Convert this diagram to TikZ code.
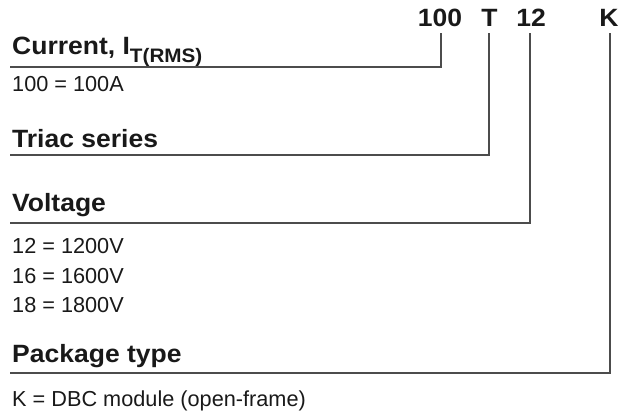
\documentclass[tikz,border=0pt]{standalone}
\usepackage{fontspec}
\setmainfont{Liberation Sans}
\newfontfamily\headfont{Liberation Sans}[FakeStretch=1.06]
\tikzset{
  head/.style={inner sep=0pt, anchor=base west, text=black!90, font=\headfont\bfseries\fontsize{25}{30}\selectfont},
  body/.style={inner sep=0pt, anchor=base west, text=black!90, font=\fontsize{21.7}{25}\selectfont},
  code/.style={inner sep=0pt, anchor=base, text=black!90, font=\headfont\bfseries\fontsize{25}{30}\selectfont},
  lead/.style={draw=black!70, line width=1.1pt}
}
\begin{document}
\begin{tikzpicture}[x=1pt,y=-1pt]
\useasboundingbox (0,0) rectangle (620,417);
% code letters
\node[code] (c100) at (440,27) {100};
\node[code] (cT) at (489.5,27) {T};
\node[code] (c12) at (531,27) {12};
\node[code] (cK) at (609,27) {K};
% headings
\node[head] (hcur) at (12,55) {Current, I\raisebox{-8pt}{\fontsize{19.5}{21}\selectfont T(RMS)}};
\node[body] (b100) at (12,92) {100 = 100A};
\node[head] (htri) at (12,147) {Triac series};
\node[head] (hvol) at (12,211) {Voltage};
\node[body] (b12) at (12,253) {12 = 1200V};
\node[body] (b16) at (12,283) {16 = 1600V};
\node[body] (b18) at (12,312) {18 = 1800V};
\node[head] (hpkg) at (12,362) {Package type};
\node[body] (bK) at (12,406) {K = DBC module (open-frame)};
% line ends
\coordinate (ecur) at (10,67);
\coordinate (etri) at (10,155);
\coordinate (evol) at (10,223);
\coordinate (epkg) at (10,373);
% leaders
\draw[lead] ([xshift=1pt,yshift=-6pt]c100.south) |- (ecur);
\draw[lead] ([xshift=-0.5pt,yshift=-6pt]cT.south) |- (etri);
\draw[lead] ([xshift=-1pt,yshift=-6pt]c12.south) |- (evol);
\draw[lead] ([xshift=1pt,yshift=-6pt]cK.south) |- (epkg);
\end{tikzpicture}
\end{document}
